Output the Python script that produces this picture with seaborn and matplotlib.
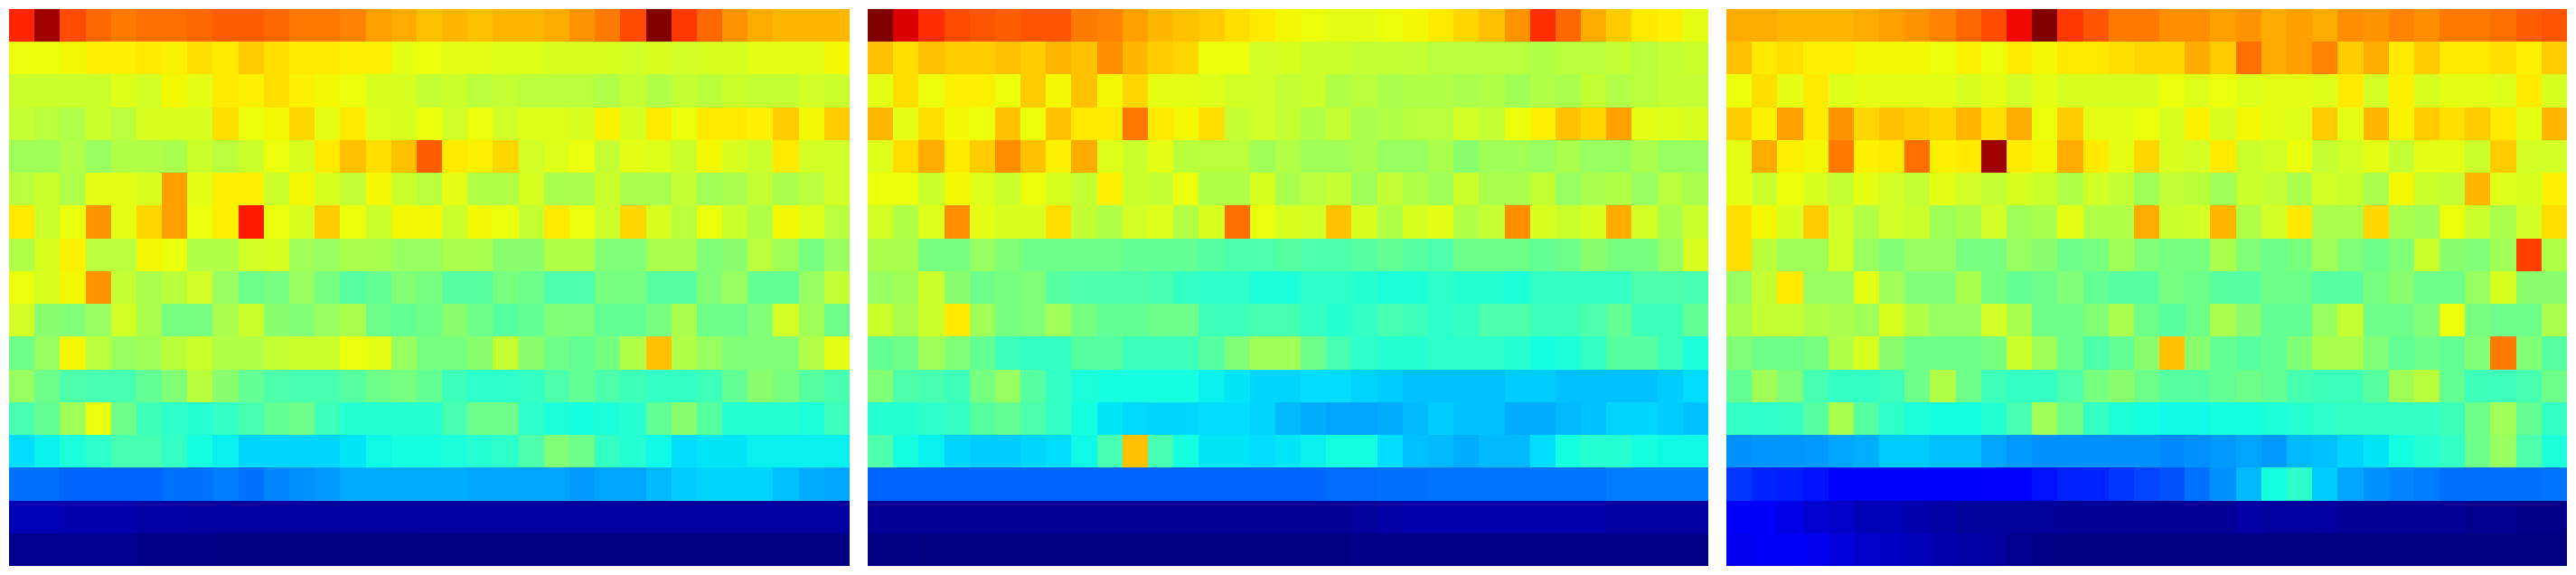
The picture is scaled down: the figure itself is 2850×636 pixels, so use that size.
import numpy as np
import matplotlib
matplotlib.use("Agg")
import matplotlib.pyplot as plt
from matplotlib.colors import FuncNorm
import seaborn as sns

panel_a = [
[87,97,83,80,78,79,79,80,81,81,80,78,78,77,74,73,71,72,71,72,72,73,75,78,83,100,85,80,75,73,72,72,72],
[64,64,65,66,66,67,66,68,67,70,68,67,67,66,66,63,64,63,63,62,62,61,61,61,60,61,60,61,61,63,63,63,65],
[59,59,59,59,62,60,65,63,67,66,68,66,65,64,61,61,58,59,57,58,57,57,57,56,58,56,58,57,59,58,58,60,59],
[58,57,56,59,57,61,61,61,68,64,65,69,63,67,62,61,64,60,64,60,62,62,61,66,61,67,64,67,67,66,70,65,70],
[54,54,56,53,56,56,55,59,57,59,64,61,67,71,68,71,81,67,66,69,60,62,64,58,63,62,59,65,61,59,67,60,60],
[57,59,56,63,63,61,74,63,66,66,59,65,61,58,65,59,57,63,56,56,61,55,55,59,55,55,58,54,55,58,55,57,60],
[67,59,64,75,63,69,74,64,66,88,64,61,70,64,59,65,65,59,65,64,58,67,64,59,69,61,57,64,59,56,65,62,57],
[56,61,66,57,57,65,64,56,56,60,61,54,53,55,55,53,53,55,55,52,52,56,56,51,51,55,55,51,52,57,54,50,53],
[64,61,65,75,58,55,57,60,53,49,50,53,50,47,48,51,50,47,47,50,49,46,46,50,50,47,47,51,53,48,48,53,58],
[60,52,51,53,60,55,50,50,55,59,52,51,53,55,49,48,49,52,49,47,48,51,51,48,48,50,55,49,49,51,60,54,49],
[49,53,65,57,53,54,57,59,56,56,58,59,59,64,63,53,50,50,52,58,52,49,48,50,56,71,56,53,51,51,51,56,63],
[53,49,46,45,45,48,51,57,52,48,46,45,45,47,49,50,48,44,42,42,43,46,48,46,44,43,43,44,48,52,50,47,45],
[45,48,54,64,49,44,42,41,43,45,48,49,44,41,41,41,41,45,49,49,42,40,39,40,41,48,52,47,41,41,41,40,44],
[35,37,40,42,45,45,43,39,37,34,34,34,34,36,38,39,39,40,41,42,46,51,49,43,41,38,35,36,36,37,37,37,37],
[24,24,23,23,23,23,24,24,25,24,26,27,28,30,30,30,30,30,29,29,29,29,28,29,29,31,33,34,34,34,32,30,29],
[5,5,4,4,4,3.5,3.5,3,3,3,3,3,3,3,3,3,3,3,3,3,3,3,3,3,3,3,3,3,3,3,3,3,3],
[1.5,1.5,1.5,1.5,1.5,1,1,1,.5,.5,.5,.5,.5,.5,.5,.5,0,0,0,0,0,0,0,0,0,0,0,0,0,0,0,0,0],
]

panel_b = [
[100,92,86,83,82,81,82,82,78,77,74,72,71,70,68,67,65,64,63,63,64,65,67,69,71,75,86,80,73,70,67,66,63],
[71,68,71,70,70,71,70,72,71,76,72,70,69,64,64,60,61,59,59,58,58,58,57,57,57,57,56,57,57,58,57,58,59],
[63,68,64,66,66,64,70,65,71,65,69,63,63,62,60,60,58,59,56,57,55,56,56,55,56,54,56,55,58,56,57,58,58],
[72,63,68,65,64,71,64,71,67,67,78,67,65,68,58,60,58,56,58,55,56,57,57,60,58,64,66,71,69,74,63,62,61],
[62,68,73,67,70,76,71,66,73,62,59,63,57,57,57,54,56,54,54,55,53,53,55,52,54,54,53,55,53,53,55,53,53],
[64,64,59,65,62,59,64,61,58,66,59,58,64,56,56,61,55,57,58,54,58,56,54,59,55,55,58,53,55,56,53,57,55],
[60,56,62,76,63,61,61,68,58,56,60,62,56,61,79,64,61,60,71,61,56,61,63,56,58,76,61,59,61,73,60,55,59],
[55,55,50,50,53,51,49,49,49,49,48,48,48,47,46,46,47,46,46,47,48,47,46,49,49,49,48,49,52,50,50,53,61],
[53,54,59,52,49,50,51,47,46,46,46,45,43,42,42,40,40,42,42,41,40,40,42,41,41,40,43,43,43,43,46,46,45],
[59,55,59,67,54,50,51,54,50,48,48,49,49,44,44,45,45,43,41,43,45,44,42,43,46,46,44,44,46,48,44,44,48],
[48,49,54,51,48,44,43,43,47,47,44,44,44,47,51,54,54,49,45,42,41,41,42,42,42,41,39,40,43,47,47,44,40],
[51,46,45,44,50,53,47,43,40,39,39,39,39,37,36,34,34,35,35,34,33,32,32,32,32,33,33,32,32,32,32,33,35],
[41,41,42,43,47,48,46,43,39,36,34.5,34,34,35,35,34,31,30,29,29,30,31,33,32,32,30,30,31,32,34,34,33,32],
[46,39,37,34,33,33,34,35,38,45,71,45,39,36,36,35,36,37,39,39,35,32,31,30,31,31,35,39,41,41,39,38,38],
[23,23,23,23,23,23,23,23,23,23,23,23,23,23,23,23,23,23,23.5,23.5,24,24,24.5,24.5,24.5,24.5,24.5,24.5,24.5,25,25,25,25],
[2,2,2,2,2,2,2,2,2,2,2,2,2,2,2,2,2,2,2,2.5,3.5,4,4,4,4,4,4,4,4,3,3,3,3],
[.5,.5,.3,.3,.3,0,0,0,0,0,0,0,0,0,0,0,.5,.5,.5,1,1,1,1,1,1,1,1,1,1,1,1,1,1],
]

panel_c = [
[73,73,72,72,72,73,74,75,77,80,83,90,100,85,82,78,78,76,76,74,75,73,74,73,76,75,77,76,78,78,79,81,82],
[71,67,68,66,66,65,65,65,64,66,64,67,65,67,67,68,69,69,73,70,79,73,74,77,70,73,67,70,67,67,68,66,70],
[64,68,63,67,62,63,63,63,63,61,63,60,63,61,61,61,61,64,62,64,62,63,63,62,67,60,66,61,63,63,62,67,61],
[70,66,74,67,75,69,71,70,69,72,68,73,64,70,63,63,64,61,66,61,65,63,62,70,63,72,66,70,68,70,67,63,72],
[63,73,66,65,78,66,67,79,66,67,97,67,65,73,67,63,69,61,60,67,59,60,64,58,60,63,58,63,63,59,70,60,60],
[63,59,64,61,58,63,60,58,63,60,58,61,59,56,60,58,54,58,57,54,59,58,55,60,59,55,65,59,58,72,62,61,66],
[68,65,61,70,60,56,60,59,54,55,60,54,55,63,56,56,73,59,60,72,56,60,67,55,55,69,55,54,64,59,55,60,68],
[68,57,54,54,60,53,51,53,53,50,50,53,52,49,50,54,51,50,50,55,51,49,50,54,51,49,51,59,52,51,54,84,56],
[53,58,67,53,53,63,54,51,51,55,50,48,49,51,48,47,47,50,49,47,47,49,49,47,47,50,52,49,49,53,61,52,52],
[55,58,58,56,55,54,61,56,53,53,60,55,49,49,51,55,49,47,49,55,52,48,48,53,58,49,49,51,64,50,49,49,55],
[51,49,49,50,56,61,52,49,49,49,50,59,54,49,46,48,52,71,52,48,47,48,51,55,55,51,48,49,48,51,78,51,47],
[48,54,51,45,43,43,44,49,56,49,44,43,43,46,50,52,49,47,47,48,49,48,45,44,44,47,54,57,48,44,44,45,49],
[43,42,43,47,55,47,42,40,39,39,41,45,54,49,43,40,39,38,38,39,39,40,41,42,43,43,43,43,44,49,54,48,43],
[27,27.5,27.5,28,29,30,33,33,32,32,29,28,27,27,27,27,27,26.5,27,28,29,28,31,32,34,36,39,41,43,49,53,46,40],
[18,16.5,15.5,14.5,12,12,12,12,12,12,13,13,14.5,16,16.5,18,19.5,21,24,27,31,39,42,33,29,27,26,25,24,24,24,24,24.5],
[11,11,9.5,7.5,6.5,5,5,4,3.5,2.5,2.5,2.5,2.5,2,2,2,2,2,2,2,3.5,3,3,3,2,2,2,2,2,1.5,1.5,1,1],
[10,11,11,10,8,7,6,5.5,4,3.5,3,1.5,1,.5,.5,.5,.5,.5,.5,.5,.5,.5,.5,0,0,0,0,0,0,0,0,0,0],
]

panels = [panel_a, panel_b, panel_c]
lefts = [10, 960, 1910]

# Colour scale: the values as read, onto positions of the jet map.
scale_in = [0, 33, 38, 42, 46, 50, 54, 58, 62, 66, 70, 75, 100]
scale_out = [0, 32.5, 36.8, 40.4, 44.4, 49.5, 54.4, 58.8, 61.8, 65.4, 69.3, 75, 100]


def forward(x):
    return np.interp(x, scale_in, scale_out)


def inverse(y):
    return np.interp(y, scale_out, scale_in)


W, H = 2850, 636
fig = plt.figure(figsize=(W / 100, H / 100), dpi=100, facecolor="white")
for values, left in zip(panels, lefts):
    ax = fig.add_axes([left / W, 10 / H, 930 / W, 616 / H])
    sns.heatmap(np.array(values, dtype=float), ax=ax, cmap="jet",
                norm=FuncNorm((forward, inverse), vmin=0, vmax=100),
                cbar=False, xticklabels=False, yticklabels=False, linewidths=0, rasterized=True)
    ax.set_xlabel("")
    ax.set_ylabel("")
fig.savefig("out.png", dpi=100, facecolor="white")
